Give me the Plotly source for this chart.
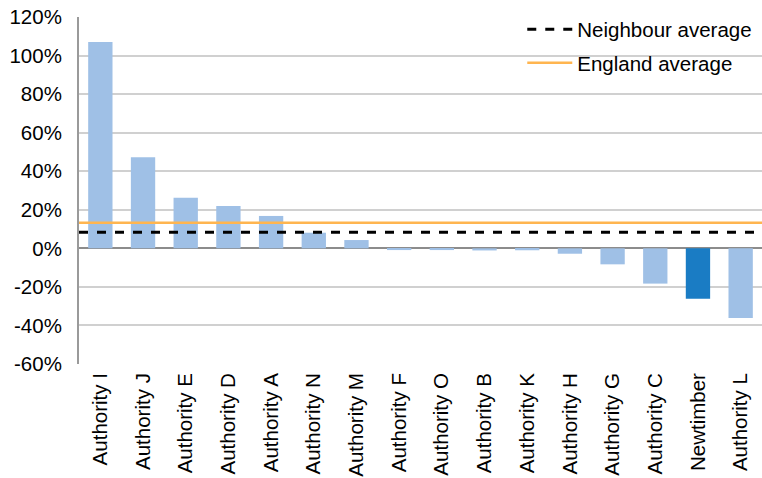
import plotly.graph_objects as go

# Percentage change by authority (as fractions)
categories = ["Authority I", "Authority J", "Authority E", "Authority D", "Authority A",
              "Authority N", "Authority M", "Authority F", "Authority O", "Authority B",
              "Authority K", "Authority H", "Authority G", "Authority C", "Newtimber",
              "Authority L"]
values = [1.07, 0.473, 0.263, 0.22, 0.168, 0.081, 0.043, -0.009, -0.009, -0.011,
          -0.010, -0.028, -0.083, -0.183, -0.262, -0.362]
highlight = "Newtimber"

neighbour_average = 0.083
england_average = 0.133

tick_values = [-0.6, -0.4, -0.2, 0.0, 0.2, 0.4, 0.6, 0.8, 1.0, 1.2]
tick_labels = ["-60%", "-40%", "-20%", "0%", "20%", "40%", "60%", "80%", "100%", "120%"]

LIGHT = "#9fc0e6"
DARK = "#1a7cc4"
FONT = "Liberation Sans, Arial, sans-serif"
FS = 20.5

bar_colors = [DARK if c == highlight else LIGHT for c in categories]

fig = go.Figure()
fig.add_trace(go.Bar(x=categories, y=values, marker=dict(color=bar_colors, line=dict(width=0)),
                     showlegend=False))

# Reference averages spanning the full plot width on an overlaid unit axis
fig.add_trace(go.Scatter(x=[0, 1], y=[neighbour_average, neighbour_average], mode="lines",
                         name="Neighbour average", xaxis="x2", legendgroup="a",
                         line=dict(color="#000000", width=3, dash="dash")))
fig.add_trace(go.Scatter(x=[0, 1], y=[england_average, england_average], mode="lines",
                         name="England average", xaxis="x2", legendgroup="b",
                         line=dict(color="#ffb54f", width=2.5)))

fig.update_layout(
    width=762, height=478,
    margin=dict(l=79, r=0, t=17, b=114),
    paper_bgcolor="white", plot_bgcolor="white",
    font=dict(family=FONT, size=FS, color="#000000"),
    bargap=0.43,
    xaxis=dict(tickangle=-90, showgrid=False, showline=False, ticks="",
               tickfont=dict(size=FS), ticklabelstandoff=4),
    xaxis2=dict(overlaying="x", range=[0, 1], visible=False),
    yaxis=dict(range=[-0.6, 1.2], tickvals=tick_values, ticktext=tick_labels,
               showgrid=True, gridcolor="#d0d0d0", gridwidth=1.5,
               zeroline=True, zerolinecolor="#8c8c8c", zerolinewidth=2,
               showline=True, linecolor="#9a9a9a", linewidth=2,
               ticks="", ticklabelstandoff=11),
    legend=dict(x=0.649, y=1.022, xanchor="left", yanchor="top", itemwidth=45,
                bgcolor="rgba(0,0,0,0)", font=dict(size=FS), tracegroupgap=4),
)

fig.write_html("out.html")
